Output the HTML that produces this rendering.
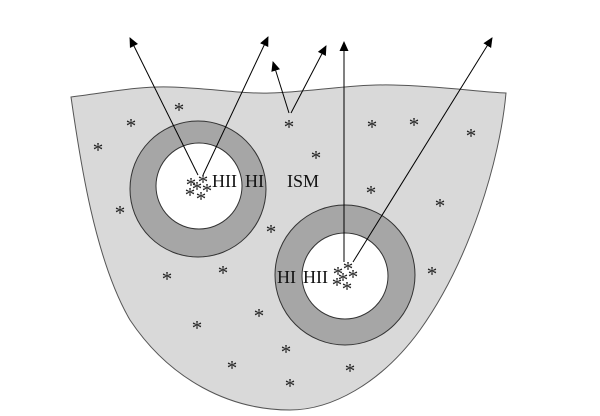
<!DOCTYPE html>
<html><head><meta charset="utf-8"><style>
body{margin:0;background:#fff}
svg{display:block}
text{font-family:"Liberation Serif",serif}
.s{font-size:21px;fill:#222}
</style></head><body>
<svg width="600" height="416" viewBox="0 0 600 416">
<defs><marker id="a" markerWidth="10" markerHeight="10" refX="9" refY="5" orient="auto" markerUnits="userSpaceOnUse"><path d="M0,0.5 L10,5 L0,9.5 z" fill="#000"/></marker></defs>
<path d="M71,97 C110,92 140,86 170,87 C210,88 240,94 270,93 C310,92 350,84 393,85 C440,86 480,92 506,93 C500,160 470,260 420,330 C380,385 330,410 290,410 C230,410 170,380 130,320 C95,260 80,160 71,97 Z" fill="#d9d9d9" stroke="#555" stroke-width="1"/>
<circle cx="198" cy="189" r="68" fill="#a6a6a6" stroke="#333" stroke-width="1"/>
<circle cx="199" cy="186" r="43" fill="#fff" stroke="#333" stroke-width="1"/>
<circle cx="345" cy="275" r="70" fill="#a6a6a6" stroke="#333" stroke-width="1"/>
<circle cx="345" cy="276" r="43" fill="#fff" stroke="#333" stroke-width="1"/>
<g stroke="#000" stroke-width="1" fill="none">
<line x1="198" y1="175" x2="130" y2="38" marker-end="url(#a)"/>
<line x1="203" y1="175" x2="268" y2="37" marker-end="url(#a)"/>
<line x1="289" y1="113" x2="273" y2="62" marker-end="url(#a)"/>
<line x1="291" y1="113" x2="326" y2="46" marker-end="url(#a)"/>
<line x1="344" y1="262" x2="344" y2="42" marker-end="url(#a)"/>
<line x1="353" y1="262" x2="492" y2="38" marker-end="url(#a)"/>
</g>
<g font-size="18" fill="#111">
<text x="212" y="187">HII</text>
<text x="245" y="187">HI</text>
<text x="287" y="187">ISM</text>
<text x="277" y="283">HI</text>
<text x="303" y="283">HII</text>
</g>
<g class="s" text-anchor="middle">
<text x="191" y="192">*</text><text x="203" y="189">*</text><text x="197" y="196">*</text><text x="207" y="198">*</text><text x="190" y="202">*</text><text x="201" y="206">*</text>
<text x="338" y="281">*</text><text x="348" y="276">*</text><text x="343" y="287">*</text><text x="353" y="284">*</text><text x="337" y="292">*</text><text x="347" y="296">*</text>
<text x="179" y="117">*</text><text x="131" y="133">*</text><text x="98" y="157">*</text><text x="289" y="134">*</text><text x="316" y="165">*</text><text x="372" y="134">*</text><text x="414" y="132">*</text><text x="471" y="143">*</text>
<text x="120" y="220">*</text><text x="271" y="239">*</text><text x="371" y="200">*</text><text x="440" y="213">*</text><text x="167" y="286">*</text><text x="223" y="280">*</text><text x="432" y="281">*</text>
<text x="197" y="335">*</text><text x="259" y="323">*</text><text x="286" y="359">*</text><text x="232" y="375">*</text><text x="350" y="378">*</text><text x="290" y="393">*</text>
</g>
</svg>
</body></html>
